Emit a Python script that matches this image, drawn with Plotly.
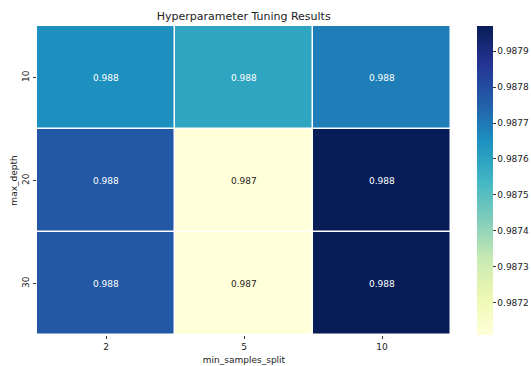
import plotly.graph_objects as go

min_samples_split = ["2", "5", "10"]
max_depth = ["10", "20", "30"]
scores = [
    [0.98765, 0.98759, 0.98769],
    [0.98777, 0.98711, 0.98797],
    [0.98777, 0.98711, 0.98797],
]
cbar_ticks = [0.9872, 0.9873, 0.9874, 0.9875, 0.9876, 0.9877, 0.9878, 0.9879]

zmin, zmax = 0.98711, 0.98797
ylgnbu = ["#ffffd9", "#edf8b1", "#c7e9b4", "#7fcdbb", "#41b6c4",
          "#1d91c0", "#225ea8", "#253494", "#081d58"]
colorscale = [[i / 8, c] for i, c in enumerate(ylgnbu)]

xi = list(range(len(min_samples_split)))
yi = list(range(len(max_depth)))

font = "DejaVu Sans"
fs = 9
fig = go.Figure()
fig.add_trace(go.Heatmap(
    z=scores, x=xi, y=yi,
    colorscale=colorscale, zmin=zmin, zmax=zmax,
    xgap=1.5, ygap=1.5, hoverinfo="skip",
    colorbar=dict(
        tickvals=cbar_ticks, ticktext=[f"{t:.4f}" for t in cbar_ticks],
        thickness=16, len=1, lenmode="fraction",
        y=0.5, yanchor="middle",
        xref="container", x=477 / 531, xpad=0, ypad=0, xanchor="left",
        outlinewidth=0, ticks="outside", ticklen=3, tickcolor="#333",
        tickfont=dict(family=font, size=fs, color="#222"),
    ),
))

annotations = []
for i, row in enumerate(scores):
    for j, v in enumerate(row):
        t = (v - zmin) / (zmax - zmin)
        annotations.append(dict(
            x=xi[j], y=yi[i], xref="x", yref="y", text=f"{v:.3g}",
            showarrow=False,
            font=dict(family=font, size=fs, color="white" if t > 0.4 else "#262626"),
        ))

fig.update_layout(
    width=531, height=366,
    margin=dict(l=37, r=80, t=26, b=31, autoexpand=False),
    paper_bgcolor="white", plot_bgcolor="white",
    title=dict(text="Hyperparameter Tuning Results", x=0.459, xanchor="center",
               y=0.955, yanchor="middle",
               font=dict(family=font, size=11, color="#222")),
    annotations=annotations,
    xaxis=dict(title=dict(text="min_samples_split", font=dict(family=font, size=fs, color="#222"), standoff=5),
               tickvals=xi, ticktext=min_samples_split, range=[-0.5, 2.5],
               ticks="outside", ticklen=3, tickcolor="#333",
               tickfont=dict(family=font, size=fs, color="#222"), showgrid=False, zeroline=False),
    yaxis=dict(title=dict(text="max_depth", font=dict(family=font, size=fs, color="#222"), standoff=2),
               tickvals=yi, ticktext=max_depth, range=[2.5, -0.5],
               ticks="outside", ticklen=3, tickcolor="#333",
               tickangle=-90, tickfont=dict(family=font, size=fs, color="#222"),
               showgrid=False, zeroline=False),
)
fig.write_html("out.html")
